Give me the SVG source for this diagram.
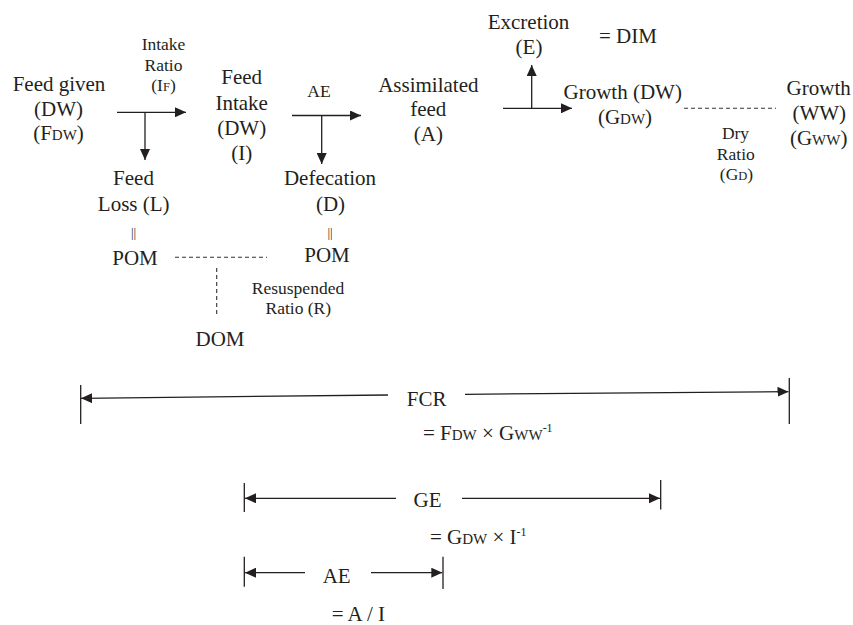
<svg xmlns="http://www.w3.org/2000/svg" width="853" height="625" viewBox="0 0 853 625" font-family="'Liberation Serif', 'Times New Roman', 'DejaVu Serif', serif">
<defs>
<style>
text{font-family:'Liberation Serif','Times New Roman','DejaVu Serif',serif;fill:#231f20}
.m{font-size:21px;text-anchor:middle}
.s{font-size:17.5px;text-anchor:middle}
.eq{font-size:13px;text-anchor:middle}
.f{font-size:21px}
.sub{font-size:15px}
.subs{font-size:12.5px}
.sup{font-size:12px}
.ln{stroke:#231f20;stroke-width:1.3;fill:none}
.dash{stroke:#333;stroke-width:1.1;stroke-dasharray:4 3;fill:none}
</style>
<marker id="ah" viewBox="0 0 11 10" refX="11" refY="5" markerWidth="11" markerHeight="10" markerUnits="userSpaceOnUse" orient="auto">
<path d="M0,0 L11,5 L0,10 z" fill="#231f20"/>
</marker>
</defs>
<rect width="853" height="625" fill="#fff"/>

<g id="connectors">
<line class="ln" x1="117" y1="112.3" x2="186" y2="112.3" marker-end="url(#ah)"/>
<line class="ln" x1="145" y1="112.3" x2="145" y2="160" marker-end="url(#ah)"/>
<line class="ln" x1="292" y1="115.5" x2="361" y2="115.5" marker-end="url(#ah)"/>
<line class="ln" x1="321.7" y1="115.5" x2="321.7" y2="164" marker-end="url(#ah)"/>
<line class="ln" x1="503" y1="108.3" x2="572" y2="108.3" marker-end="url(#ah)"/>
<line class="ln" x1="531.7" y1="108.3" x2="531.7" y2="65" marker-end="url(#ah)"/>
<line class="dash" x1="175" y1="257.3" x2="267" y2="257.3"/>
<line class="dash" x1="216.7" y1="268" x2="216.7" y2="317" stroke-dasharray="5 4"/>
<line class="dash" x1="684" y1="108.3" x2="776" y2="108.3"/>
<line class="ln" x1="80.7" y1="385" x2="80.7" y2="424"/>
<line class="ln" x1="388" y1="395" x2="81" y2="398.3" marker-end="url(#ah)"/>
<line class="ln" x1="465" y1="394.3" x2="788.5" y2="391.7" marker-end="url(#ah)"/>
<line class="ln" x1="789.3" y1="378" x2="789.3" y2="424"/>
<line class="ln" x1="244.3" y1="483" x2="244.3" y2="512"/>
<line class="ln" x1="396" y1="498.3" x2="245" y2="498.3" marker-end="url(#ah)"/>
<line class="ln" x1="462" y1="498.3" x2="660" y2="498.3" marker-end="url(#ah)"/>
<line class="ln" x1="660.7" y1="480" x2="660.7" y2="509.5"/>
<line class="ln" x1="244.3" y1="556.7" x2="244.3" y2="586.7"/>
<line class="ln" x1="305" y1="572.7" x2="245" y2="572.7" marker-end="url(#ah)"/>
<line class="ln" x1="371" y1="572.7" x2="442.3" y2="572.7" marker-end="url(#ah)"/>
<line class="ln" x1="443" y1="556.7" x2="443" y2="589"/>
</g>

<g id="feed-given">
<text class="m" x="59" y="90.5">Feed given</text>
<text class="m" x="58.5" y="115.5">(DW)</text>
<text class="m" x="58.5" y="140">(F<tspan class="sub">DW</tspan>)</text>
</g>

<g id="intake-ratio">
<text class="s" x="163.5" y="50">Intake</text>
<text class="s" x="163.5" y="71">Ratio</text>
<text class="s" x="163.5" y="91">(I<tspan class="subs">F</tspan>)</text>
</g>

<g id="feed-intake">
<text class="m" x="241.7" y="84">Feed</text>
<text class="m" x="241.7" y="109.5">Intake</text>
<text class="m" x="241.7" y="134.5">(DW)</text>
<text class="m" x="241.7" y="159.5">(I)</text>
</g>

<g id="feed-loss">
<text class="m" x="133.5" y="185">Feed</text>
<text class="m" x="133.7" y="211">Loss (L)</text>
<text class="eq" x="133.5" y="237">||</text>
<text class="m" x="135" y="265">POM</text>
</g>

<g id="ae-label">
<text class="s" x="319" y="97">AE</text>
</g>

<g id="defecation">
<text class="m" x="330" y="185">Defecation</text>
<text class="m" x="330.5" y="210.5">(D)</text>
<text class="eq" x="330" y="237">||</text>
<text class="m" x="327" y="261.5">POM</text>
</g>

<g id="resuspended-ratio">
<text class="s" x="298" y="294">Resuspended</text>
<text class="s" x="298.3" y="314">Ratio (R)</text>
</g>

<g id="dom">
<text class="m" x="220" y="346">DOM</text>
</g>

<g id="assimilated-feed">
<text class="m" x="428.3" y="91.5">Assimilated</text>
<text class="m" x="428.3" y="116">feed</text>
<text class="m" x="428.3" y="140.5">(A)</text>
</g>

<g id="excretion">
<text class="m" x="528.5" y="29.3">Excretion</text>
<text class="m" x="529" y="54">(E)</text>
<text class="f" x="599" y="43.3">= DIM</text>
</g>

<g id="growth-dw">
<text class="m" x="622.7" y="98.5">Growth (DW)</text>
<text class="m" x="625" y="123.5">(G<tspan class="sub">DW</tspan>)</text>
</g>

<g id="dry-ratio">
<text class="s" x="735.5" y="139">Dry</text>
<text class="s" x="735.8" y="160">Ratio</text>
<text class="s" x="736.5" y="180">(G<tspan class="subs">D</tspan>)</text>
</g>

<g id="growth-ww">
<text class="m" x="818.7" y="95">Growth</text>
<text class="m" x="819.3" y="120">(WW)</text>
<text class="m" x="818.7" y="145">(G<tspan class="sub">WW</tspan>)</text>
</g>

<g id="fcr">
<text class="m" x="426.7" y="406">FCR</text>
<text class="f" x="423" y="440">= F<tspan class="sub">DW</tspan> ×  G<tspan class="sub">WW</tspan><tspan class="sup" dy="-8">-1</tspan></text>
</g>

<g id="ge">
<text class="m" x="427.5" y="506.7">GE</text>
<text class="f" x="430" y="544">= G<tspan class="sub">DW</tspan> ×  I<tspan class="sup" dy="-8">-1</tspan></text>
</g>

<g id="ae">
<text class="m" x="336.7" y="583.3">AE</text>
<text class="f" x="331.7" y="621">= A / I</text>
</g>
</svg>
